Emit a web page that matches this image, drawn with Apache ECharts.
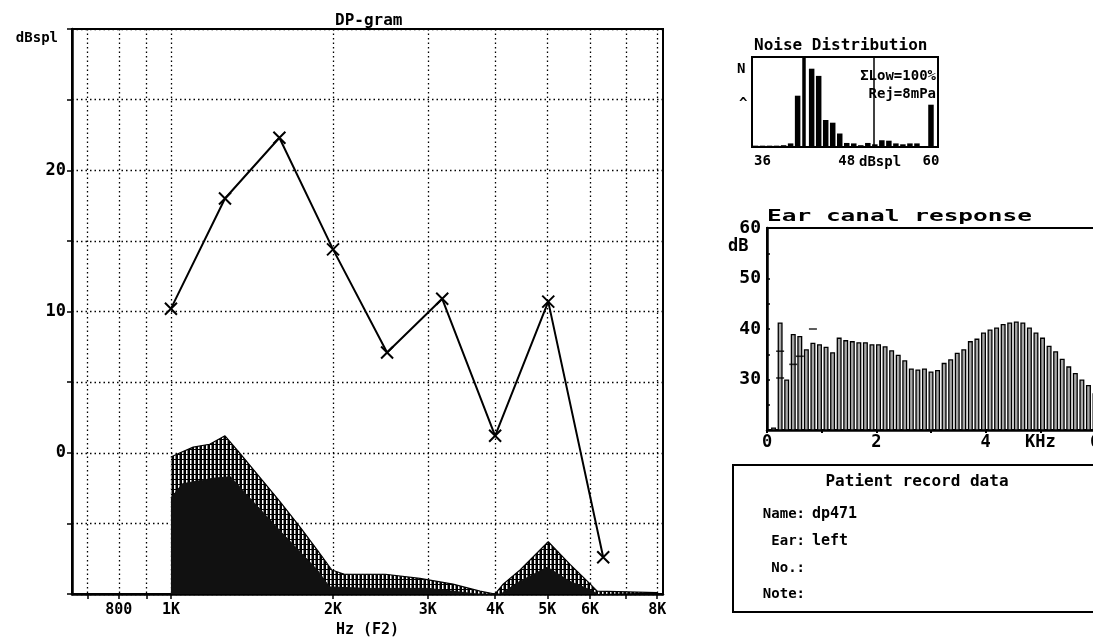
<!DOCTYPE html>
<html>
<head>
<meta charset="utf-8">
<script src="https://cdn.jsdelivr.net/npm/echarts@6/dist/echarts.min.js"></script>
<style>
  html, body { margin: 0; background: #fff; }
  #chart { width: 1093px; height: 639px; }
</style>
</head>
<body>
<div id="chart"></div>
<script>
// DP-gram: DP level (dBspl) at each F2 frequency (Hz)
const dpFreq = [1000, 1260, 1590, 2000, 2520, 3190, 4000, 5020, 6350];
const dpLevel = [10.2, 18.0, 22.3, 14.4, 7.1, 10.9, 1.2, 10.7, -7.4];

// noise floor, outer (hatched) and inner (dark) bands
const noiseOuterFreq = [1000, 1040, 1100, 1180, 1260, 1340, 1460, 1590, 1740, 1870, 1990, 2100, 2500, 2900, 3340, 3750, 4000, 4140, 4450, 5020, 5510, 6010, 6190, 8000];
const noiseOuterLevel = [-0.3, 0, 0.4, 0.6, 1.2, 0, -1.7, -3.4, -5.3, -6.9, -8.3, -8.6, -8.6, -8.9, -9.3, -9.8, -10, -9.3, -8.3, -6.3, -7.9, -9.3, -9.8, -9.9];
const noiseInnerFreq = [1000, 1050, 1200, 1290, 1400, 1610, 1870, 1970, 2300, 3000, 3700, 4100, 4400, 5000, 5500, 6000, 6200];
const noiseInnerLevel = [-3.2, -2.2, -1.8, -1.7, -3.2, -5.7, -8.3, -9.5, -9.6, -9.6, -10, -10, -9.2, -8.1, -9.1, -9.7, -10];

// grid / tick positions on the F2 axis
const gridFreq = [700, 800, 900, 1000, 2000, 3000, 4000, 5000, 6000, 7000, 8000];
const labelFreq = [800, 1000, 2000, 3000, 4000, 5000, 6000, 8000];

// noise distribution histogram (dBspl bins, relative counts)
const ndBins = [35, 36, 37, 38, 39, 40, 41, 42, 43, 44, 45, 46, 47, 48, 49, 50, 51, 52, 53, 54, 55, 56, 57, 58, 59, 60];
const ndCounts = [1.5, 1.5, 1.5, 1.5, 2, 4, 57, 0, 87, 79, 30, 27, 15, 4.5, 4, 2, 4.5, 3, 7.5, 7, 4, 3, 4, 4, 1, 47];
const ndLabels = [36, 48, 60];
const ndLow = 41.9;
const ndRej = 51.9;

// ear canal response (kHz, dB)
const earFreq = [0.12, 0.24, 0.36, 0.48, 0.60, 0.72, 0.84, 0.96, 1.08, 1.20,
  1.32, 1.44, 1.56, 1.68, 1.80, 1.92, 2.04, 2.16, 2.28, 2.40,
  2.52, 2.64, 2.76, 2.88, 3.00, 3.12, 3.24, 3.36, 3.48, 3.60,
  3.72, 3.84, 3.96, 4.08, 4.20, 4.32, 4.44, 4.56, 4.68, 4.80,
  4.92, 5.04, 5.16, 5.28, 5.40, 5.52, 5.64, 5.76, 5.88, 6.00];
const earLevel = [20.5, 41.3, 30, 39, 38.6, 36, 37.3, 37, 36.5, 35.4,
  38.3, 37.8, 37.6, 37.4, 37.4, 37, 37, 36.6, 35.8, 34.9,
  33.8, 32.2, 32, 32.2, 31.6, 31.9, 33.3, 34, 35.3, 36,
  37.6, 38.1, 39.3, 39.9, 40.3, 41, 41.3, 41.5, 41.3, 40.3,
  39.3, 38.3, 36.7, 35.6, 34.1, 32.6, 31.3, 30, 28.9, 27.3];
const capFreq = [0.24, 0.24, 0.48, 0.60, 0.84];
const capLevel = [35.6, 30.3, 33, 34.6, 40];

const zip = (a, b) => a.map((v, i) => [v, b[i]]);
const MONO = '"DejaVu Sans Mono", monospace';

// vertical hatch used for the outer noise band
function hatch() {
  const c = document.createElement('canvas');
  c.width = 4; c.height = 5;
  const ctx = c.getContext('2d');
  ctx.fillStyle = '#000';
  ctx.fillRect(0, 0, 4, 5);
  ctx.fillStyle = '#fff';
  ctx.fillRect(2, 0, 1.5, 4);
  return c;
}

const dotted = { color: '#000', width: 1.3, type: [1.5, 3] };
const lbl = { color: '#000', fontFamily: MONO, fontWeight: 'bold', fontSize: 15 };

const chart = echarts.init(document.getElementById('chart'), null, { renderer: 'canvas' });
chart.setOption({
  animation: false,
  backgroundColor: '#fff',
  title: {
    text: 'DP-gram', left: 330, top: 8,
    textStyle: { fontFamily: MONO, fontSize: 16, fontWeight: 'bold', color: '#000' }
  },
  grid: [
    { left: 72, top: 29, width: 591, height: 565, show: true, borderColor: '#000', borderWidth: 2, outerBoundsMode: 'none' },
    { left: 752, top: 57, width: 186, height: 90, show: true, borderColor: '#000', borderWidth: 2, outerBoundsMode: 'none' },
    { left: 767, top: 228, width: 328, height: 202, show: true, borderColor: '#000', borderWidth: 2, outerBoundsMode: 'none' }
  ],
  xAxis: [
    {
      gridIndex: 0, type: 'log', logBase: 10, min: 655, max: 8200,
      name: 'Hz (F2)', nameLocation: 'middle', nameGap: 27,
      nameTextStyle: { fontFamily: MONO, fontSize: 15, fontWeight: 'bold', color: '#000' },
      axisLine: { onZero: false, lineStyle: { color: '#000', width: 2.5 } },
      axisTick: { customValues: gridFreq, length: 5, lineStyle: { color: '#000', width: 1.5 } },
      axisLabel: Object.assign({}, lbl, {
        customValues: labelFreq, margin: 9,
        formatter: v => v >= 1000 ? Math.round(v / 1000) + 'K' : String(Math.round(v))
      }),
      splitLine: { show: true, lineStyle: dotted },
      minorTick: { show: false }
    },
    {
      gridIndex: 1, type: 'value', min: 34.5, max: 61,
      axisLine: { onZero: false, lineStyle: { color: '#000', width: 2 } },
      axisTick: { show: false },
      axisLabel: Object.assign({}, lbl, { fontSize: 14, customValues: ndLabels, margin: 7 }),
      splitLine: { show: false }
    },
    {
      gridIndex: 2, type: 'value', min: 0, max: 6, interval: 1,
      axisLine: { onZero: false, lineStyle: { color: '#000', width: 2.5 } },
      axisTick: { length: 3, lineStyle: { color: '#000', width: 2 } },
      axisLabel: Object.assign({}, lbl, {
        fontSize: 17, margin: 4, showMaxLabel: true,
        formatter: v => ({ 0: '0', 2: '2', 4: '4', 5: 'KHz', 6: '6' })[v] || ''
      }),
      splitLine: { show: false }
    }
  ],
  yAxis: [
    {
      gridIndex: 0, type: 'value', min: -10, max: 30, interval: 5,
      name: 'dBspl', nameLocation: 'end', nameGap: -9,
      nameTextStyle: { fontFamily: MONO, fontSize: 14, fontWeight: 'bold', color: '#000', align: 'right', verticalAlign: 'middle', padding: [0, 14, 0, 0] },
      axisLine: { show: true, onZero: false, lineStyle: { color: '#000', width: 2.5 } },
      axisTick: { show: true, length: 5, lineStyle: { color: '#000', width: 1.5 } },
      axisLabel: Object.assign({}, lbl, {
        fontSize: 17, margin: 6,
        formatter: v => (v % 10 === 0 && v > -10 && v < 30) ? String(v) : ''
      }),
      splitLine: { show: true, lineStyle: dotted }
    },
    {
      gridIndex: 1, type: 'value', min: 0, max: 100,
      axisLine: { show: true, onZero: false, lineStyle: { color: '#000', width: 2 } },
      axisTick: { show: false }, axisLabel: { show: false }, splitLine: { show: false }
    },
    {
      gridIndex: 2, type: 'value', min: 20, max: 60, interval: 5,
      axisLine: { show: true, onZero: false, lineStyle: { color: '#000', width: 2.5 } },
      axisTick: { show: true, inside: true, length: 3, lineStyle: { color: '#000', width: 1.5 } },
      axisLabel: Object.assign({}, lbl, {
        fontSize: 18, margin: 6,
        formatter: v => (v % 10 === 0 && v >= 30) ? String(v) : ''
      }),
      splitLine: { show: false }
    }
  ],
  series: [
    {
      name: 'noise outer', type: 'line', xAxisIndex: 0, yAxisIndex: 0,
      data: zip(noiseOuterFreq, noiseOuterLevel), showSymbol: false, z: 2,
      lineStyle: { color: '#000', width: 1.2 },
      areaStyle: { origin: 'start', opacity: 1, color: { image: hatch(), repeat: 'repeat' } }
    },
    {
      name: 'noise inner', type: 'line', xAxisIndex: 0, yAxisIndex: 0,
      data: zip(noiseInnerFreq, noiseInnerLevel), showSymbol: false, z: 3,
      lineStyle: { color: '#111', width: 1 },
      areaStyle: { origin: 'start', opacity: 1, color: '#111' }
    },
    {
      name: 'DP', type: 'line', xAxisIndex: 0, yAxisIndex: 0,
      data: zip(dpFreq, dpLevel), z: 5,
      lineStyle: { color: '#000', width: 2 },
      symbol: 'path://M0,0L10,10M0,10L10,0', symbolSize: 12, showAllSymbol: true,
      itemStyle: { color: '#000', borderColor: '#000', borderWidth: 2 }
    },
    {
      name: 'noise distribution', type: 'bar', xAxisIndex: 1, yAxisIndex: 1,
      data: zip(ndBins, ndCounts), barWidth: 5.5,
      itemStyle: { color: '#000' },
      markLine: {
        silent: true, symbol: 'none', label: { show: false },
        data: [
          { xAxis: ndLow, lineStyle: { color: '#000', width: 3.5, type: 'solid' } },
          { xAxis: ndRej, lineStyle: { color: '#000', width: 1.5, type: 'solid' } }
        ]
      }
    },
    {
      name: 'ear canal', type: 'bar', xAxisIndex: 2, yAxisIndex: 2,
      data: zip(earFreq, earLevel), barWidth: 5,
      itemStyle: { color: '#a8a8a8', borderColor: '#000', borderWidth: 1.3 }
    },
    {
      name: 'ear caps', type: 'scatter', xAxisIndex: 2, yAxisIndex: 2,
      data: zip(capFreq, capLevel), symbol: 'rect', symbolSize: [8, 1.6],
      itemStyle: { color: '#000' }
    }
  ],
  graphic: [
    { type: 'text', x: 754, y: 38, style: { text: 'Noise Distribution', font: 'bold 16px ' + MONO, fill: '#000' } },
    { type: 'text', x: 737, y: 62, style: { text: 'N', font: 'bold 14px ' + MONO, fill: '#000' } },
    { type: 'text', x: 739, y: 97, style: { text: '^', font: 'bold 14px ' + MONO, fill: '#000' } },
    { type: 'text', x: 936, y: 69, style: { text: 'ΣLow=100%', font: 'bold 14px ' + MONO, fill: '#000', align: 'right' } },
    { type: 'text', x: 936, y: 87, style: { text: 'Rej=8mPa', font: 'bold 14px ' + MONO, fill: '#000', align: 'right' } },
    { type: 'text', x: 859, y: 155, style: { text: 'dBspl', font: 'bold 14px ' + MONO, fill: '#000' } },
    { type: 'text', x: 767, y: 210, scaleX: 1.63, style: { text: 'Ear canal response', font: 'bold 15px ' + MONO, fill: '#000' } },
    { type: 'text', x: 728, y: 238, style: { text: 'dB', font: 'bold 17px ' + MONO, fill: '#000' } },
    { type: 'rect', shape: { x: 733, y: 465, width: 420, height: 147 }, style: { fill: 'none', stroke: '#000', lineWidth: 2 } },
    { type: 'text', x: 917, y: 474, style: { text: 'Patient record data', font: 'bold 16px ' + MONO, fill: '#000', align: 'center' } },
    { type: 'text', x: 805, y: 507, style: { text: 'Name:', font: 'bold 14px ' + MONO, fill: '#000', align: 'right' } },
    { type: 'text', x: 812, y: 507, style: { text: 'dp471', font: 'bold 15px ' + MONO, fill: '#000' } },
    { type: 'text', x: 805, y: 534, style: { text: 'Ear:', font: 'bold 14px ' + MONO, fill: '#000', align: 'right' } },
    { type: 'text', x: 812, y: 534, style: { text: 'left', font: 'bold 15px ' + MONO, fill: '#000' } },
    { type: 'text', x: 805, y: 561, style: { text: 'No.:', font: 'bold 14px ' + MONO, fill: '#000', align: 'right' } },
    { type: 'text', x: 805, y: 587, style: { text: 'Note:', font: 'bold 14px ' + MONO, fill: '#000', align: 'right' } }
  ]
});
</script>
</body>
</html>
